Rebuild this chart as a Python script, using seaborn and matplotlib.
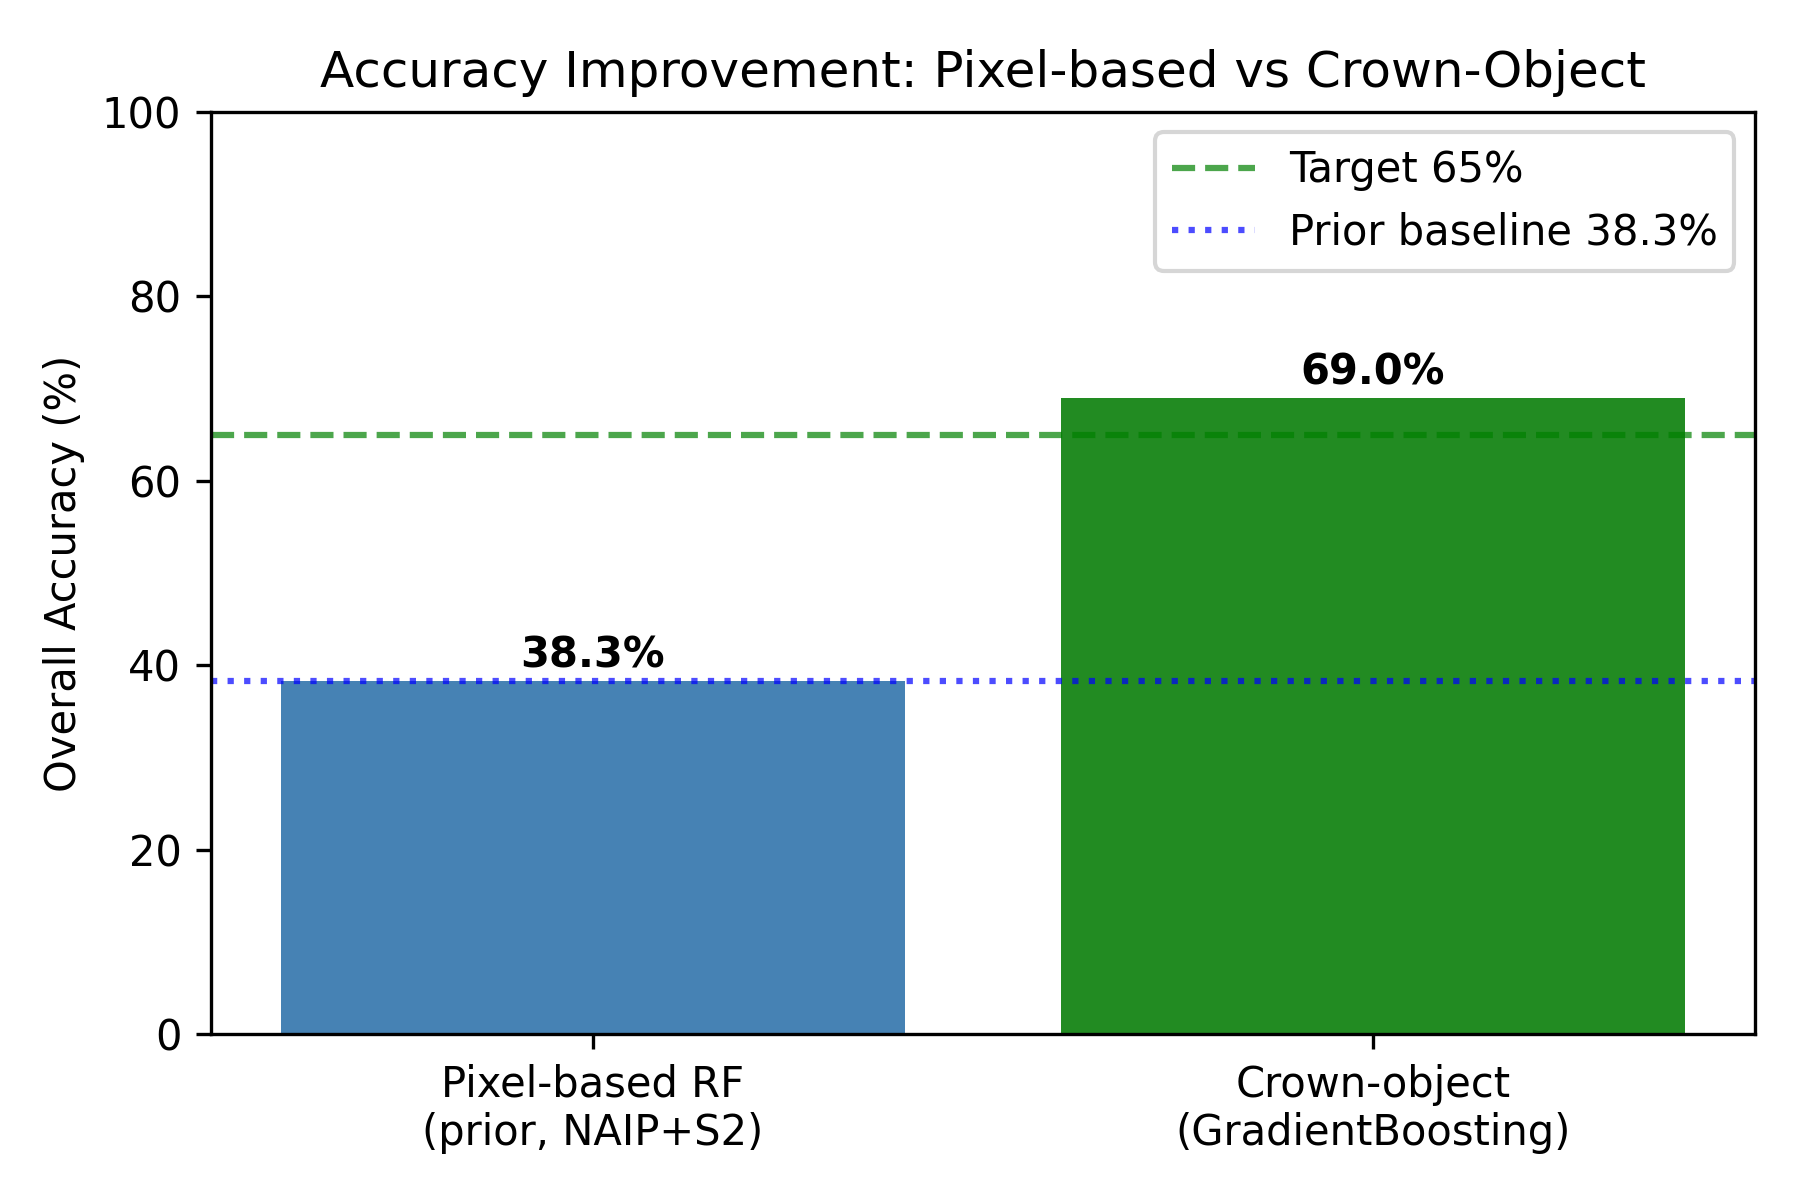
import matplotlib
matplotlib.use("Agg")
import matplotlib.pyplot as plt
import pandas as pd
import seaborn as sns

methods = ["Pixel-based RF\n(prior, NAIP+S2)", "Crown-object\n(GradientBoosting)"]
accuracy = [38.3, 69.0]
bar_colors = ["steelblue", "forestgreen"]
target = 65.0
baseline = 38.3

df = pd.DataFrame({"method": methods, "accuracy": accuracy})

fig, ax = plt.subplots(figsize=(6, 4), dpi=300)
sns.barplot(
    data=df,
    x="method",
    y="accuracy",
    hue="method",
    palette=bar_colors,
    saturation=1,
    width=0.8,
    legend=False,
    ax=ax,
)

ax.axhline(target, color="green", linestyle="--", alpha=0.7, label=f"Target {target:.0f}%")
ax.axhline(baseline, color="blue", linestyle=":", alpha=0.7, label=f"Prior baseline {baseline}%")

for p, v in zip(ax.patches, accuracy):
    ax.text(
        p.get_x() + p.get_width() / 2,
        v + 0.5,
        f"{v:.1f}%",
        ha="center",
        va="bottom",
        fontweight="bold",
    )

# matplotlib-style 5% margins instead of seaborn's fixed categorical limits
ax.set_xlim(-0.49, 1.49)
ax.set_ylim(0, 100)
ax.set_xlabel("")
ax.set_ylabel("Overall Accuracy (%)")
ax.set_title("Accuracy Improvement: Pixel-based vs Crown-Object")
ax.legend(loc="upper right")

fig.subplots_adjust(left=0.117, right=0.975, top=0.907, bottom=0.138)
fig.savefig("out.png", dpi=300)
